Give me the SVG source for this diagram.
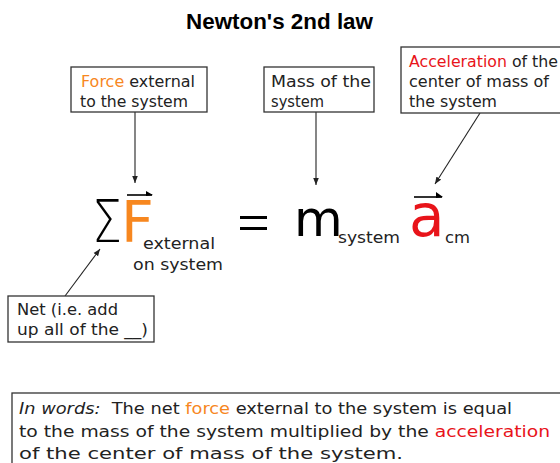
<svg xmlns="http://www.w3.org/2000/svg" width="560" height="463" viewBox="0 0 560 463">
<defs>
<style>
.t{font-family:"DejaVu Sans","Verdana",sans-serif;font-size:15px;fill:#222}
.b{fill:#fff;stroke:#333;stroke-width:1.3}
.c{stroke:#222;stroke-width:1.1;fill:none}
.o{fill:#f7871f}
.r{fill:#e8141a}
.eq{font-family:"DejaVu Sans","Verdana",sans-serif}
.sub{font-family:"DejaVu Sans","Verdana",sans-serif;font-size:16px;fill:#222}
</style>
<marker id="ah" viewBox="0 0 10 10" refX="10" refY="5" markerWidth="7" markerHeight="7" orient="auto" markerUnits="userSpaceOnUse">
<path d="M0,1 L10,5 L0,9 z" fill="#222"/>
</marker>
</defs>
<rect width="560" height="463" fill="#fff"/>
<text x="186" y="29" textLength="187" lengthAdjust="spacingAndGlyphs" font-family="Liberation Sans,Arial,sans-serif" font-weight="bold" font-size="22" fill="#000">Newton's 2nd law</text>

<g id="connectors">
<line class="c" x1="135" y1="112" x2="135" y2="183" marker-end="url(#ah)"/>
<line class="c" x1="316" y1="112" x2="316" y2="185" marker-end="url(#ah)"/>
<line class="c" x1="480" y1="113" x2="435" y2="184" marker-end="url(#ah)"/>
<line class="c" x1="65" y1="296" x2="100" y2="249" marker-end="url(#ah)"/>
</g>

<g id="force-box">
<rect class="b" x="71" y="67" width="136" height="45"/>
<text class="t" x="81" y="87" textLength="114" lengthAdjust="spacingAndGlyphs"><tspan class="o">Force</tspan> external</text>
<text class="t" x="80" y="107" textLength="108" lengthAdjust="spacingAndGlyphs">to the system</text>
</g>

<g id="mass-box">
<rect class="b" x="264" y="67" width="110" height="45"/>
<text class="t" x="271" y="87" textLength="100" lengthAdjust="spacingAndGlyphs">Mass of the</text>
<text class="t" x="271" y="107" textLength="53" lengthAdjust="spacingAndGlyphs">system</text>
</g>

<g id="accel-box">
<rect class="b" x="401" y="47" width="165" height="66"/>
<text class="t" x="409" y="67" textLength="149" lengthAdjust="spacingAndGlyphs"><tspan class="r">Acceleration</tspan> of the</text>
<text class="t" x="409" y="87" textLength="140" lengthAdjust="spacingAndGlyphs">center of mass of</text>
<text class="t" x="409" y="107" textLength="88" lengthAdjust="spacingAndGlyphs">the system</text>
</g>

<g id="net-box">
<rect class="b" x="8" y="296" width="146" height="46"/>
<text class="t" x="17" y="315" textLength="101" lengthAdjust="spacingAndGlyphs">Net (i.e. add</text>
<text class="t" x="17" y="335" textLength="131" lengthAdjust="spacingAndGlyphs">up all of the __)</text>
</g>

<g id="equation">
<text class="eq" x="92" y="242" font-size="58" font-weight="300" fill="#000" textLength="30" lengthAdjust="spacingAndGlyphs">Σ</text>
<text class="eq" x="121" y="242" font-size="57" fill="#f7871f">F</text>
<line x1="127" y1="195" x2="152" y2="195" stroke="#000" stroke-width="1.6"/>
<path d="M146,191 L153,195 L146,196 z" fill="#000"/>
<text class="sub" x="143" y="249" textLength="72" lengthAdjust="spacingAndGlyphs">external</text>
<text class="sub" x="133" y="270" textLength="90" lengthAdjust="spacingAndGlyphs">on system</text>
<rect x="240" y="216" width="27" height="3" fill="#000"/>
<rect x="240" y="227" width="27" height="3" fill="#000"/>
<text class="eq" x="294" y="236" font-size="50" fill="#000">m</text>
<text class="sub" x="338" y="243" textLength="62" lengthAdjust="spacingAndGlyphs">system</text>
<text class="eq" x="409" y="236" font-size="58" fill="#e8141a">a</text>
<line x1="414" y1="197" x2="442" y2="197" stroke="#000" stroke-width="1.6"/>
<path d="M436,192 L443,197 L436,198 z" fill="#000"/>
<text class="sub" x="445" y="243" textLength="25" lengthAdjust="spacingAndGlyphs">cm</text>
</g>

<g id="words-box">
<rect class="b" x="12" y="393" width="560" height="80"/>
<text class="sub" x="19" y="414" textLength="493" lengthAdjust="spacingAndGlyphs"><tspan font-style="italic">In words:</tspan>&#160; The net <tspan class="o">force</tspan> external to the system is equal</text>
<text class="sub" x="19" y="437" textLength="531" lengthAdjust="spacingAndGlyphs">to the mass of the system multiplied by the <tspan class="r">acceleration</tspan></text>
<text class="sub" x="19" y="459" textLength="384" lengthAdjust="spacingAndGlyphs">of the center of mass of the system.</text>
</g>
</svg>
